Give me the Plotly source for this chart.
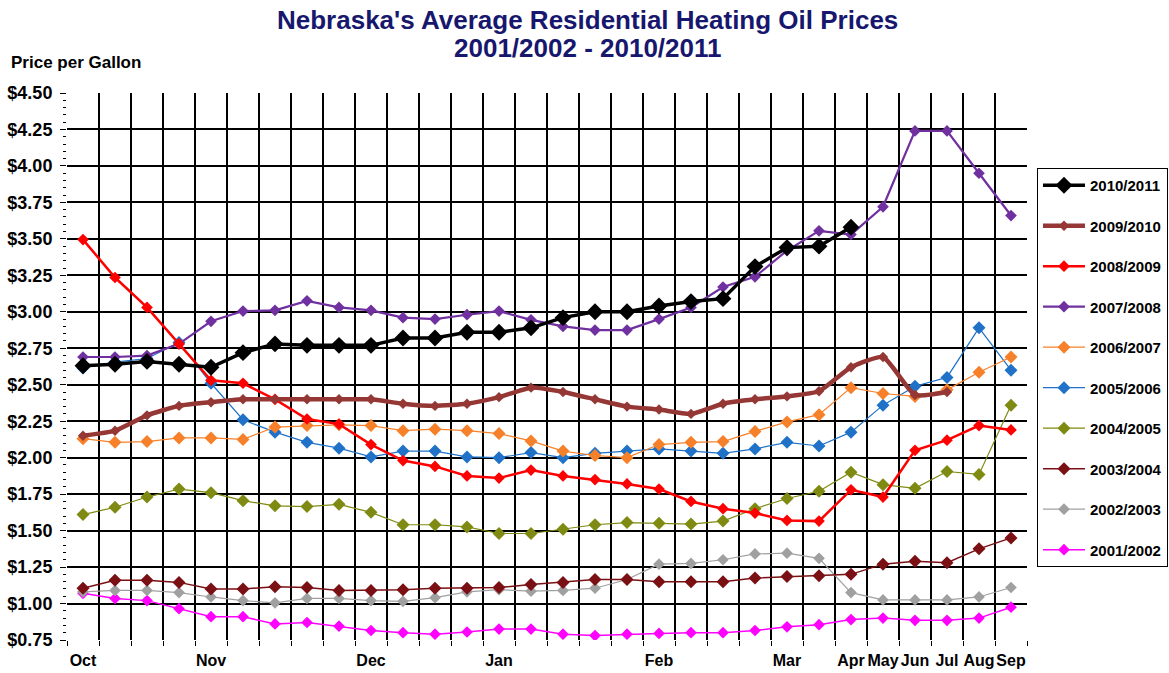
import plotly.graph_objects as go

# ---- data ----
x_labels = ["Oct", "", "", "", "Nov", "", "", "", "", "Dec", "", "", "", "Jan", "", "", "", "",
            "Feb", "", "", "", "Mar", "", "Apr", "May", "Jun", "Jul", "Aug", "Sep"]

seasons = ["2010/2011", "2009/2010", "2008/2009", "2007/2008", "2006/2007",
           "2005/2006", "2004/2005", "2003/2004", "2002/2003", "2001/2002"]

s2010_2011 = [2.63, 2.64, 2.66, 2.64, 2.62, 2.72, 2.78, 2.77, 2.77, 2.77, 2.82, 2.82, 2.86, 2.86, 2.89,
              2.96, 3.00, 3.00, 3.04, 3.07, 3.09, 3.31, 3.44, 3.45, 3.58]
s2009_2010 = [2.15, 2.185, 2.29, 2.355, 2.38, 2.40, 2.40, 2.40, 2.40, 2.40, 2.37, 2.355, 2.37, 2.415,
              2.48, 2.45, 2.40, 2.35, 2.33, 2.30, 2.37, 2.40, 2.42, 2.455, 2.62, 2.69, 2.43, 2.45]
s2008_2009 = [3.495, 3.235, 3.03, 2.78, 2.53, 2.51, 2.40, 2.265, 2.23, 2.09, 1.98, 1.94, 1.875, 1.86,
              1.915, 1.875, 1.85, 1.82, 1.785, 1.70, 1.65, 1.62, 1.57, 1.565, 1.78, 1.73, 2.05, 2.12,
              2.22, 2.19]
s2007_2008 = [2.69, 2.69, 2.70, 2.78, 2.935, 3.005, 3.01, 3.075, 3.03, 3.01, 2.96, 2.95, 2.98, 3.005,
              2.945, 2.90, 2.875, 2.875, 2.95, 3.03, 3.17, 3.24, 3.42, 3.555, 3.53, 3.72, 4.24, 4.24,
              3.95, 3.66]
s2006_2007 = [2.13, 2.105, 2.11, 2.135, 2.135, 2.125, 2.21, 2.22, 2.225, 2.22, 2.185, 2.195, 2.185,
              2.165, 2.115, 2.045, 2.015, 2.00, 2.09, 2.105, 2.11, 2.18, 2.245, 2.295, 2.48, 2.44,
              2.42, 2.465, 2.585, 2.69]
s2005_2006 = [2.615, 2.655, 2.68, 2.79, 2.51, 2.26, 2.175, 2.105, 2.065, 2.005, 2.045, 2.045, 2.005,
              2.00, 2.035, 2.00, 2.03, 2.045, 2.06, 2.045, 2.03, 2.06, 2.105, 2.08, 2.175, 2.36, 2.49,
              2.55, 2.89, 2.60]
s2004_2005 = [1.61, 1.66, 1.73, 1.785, 1.76, 1.705, 1.67, 1.665, 1.68, 1.625, 1.54, 1.54, 1.525, 1.48,
              1.48, 1.51, 1.54, 1.555, 1.55, 1.545, 1.565, 1.65, 1.72, 1.77, 1.90, 1.815, 1.79, 1.905,
              1.885, 2.36]
s2003_2004 = [1.105, 1.16, 1.16, 1.145, 1.10, 1.10, 1.115, 1.11, 1.09, 1.09, 1.095, 1.105, 1.105,
              1.11, 1.13, 1.145, 1.165, 1.165, 1.15, 1.15, 1.15, 1.175, 1.185, 1.19, 1.20, 1.27, 1.29,
              1.28, 1.375, 1.45]
s2002_2003 = [1.08, 1.09, 1.09, 1.075, 1.045, 1.02, 1.005, 1.035, 1.035, 1.02, 1.015, 1.04, 1.08,
              1.095, 1.085, 1.09, 1.105, 1.165, 1.27, 1.275, 1.30, 1.34, 1.345, 1.31, 1.075, 1.025,
              1.025, 1.025, 1.045, 1.11]
s2001_2002 = [1.07, 1.035, 1.02, 0.965, 0.91, 0.91, 0.86, 0.87, 0.845, 0.815, 0.80, 0.79, 0.805,
              0.825, 0.825, 0.79, 0.78, 0.79, 0.795, 0.80, 0.80, 0.815, 0.84, 0.855, 0.89, 0.90,
              0.885, 0.885, 0.90, 0.975]

series = [s2010_2011, s2009_2010, s2008_2009, s2007_2008, s2006_2007,
          s2005_2006, s2004_2005, s2003_2004, s2002_2003, s2001_2002]

title_line1 = "Nebraska's Average Residential Heating Oil Prices"
title_line2 = "2001/2002 - 2010/2011"
y_title = "Price per Gallon"

# ---- styles ----
colors = ["#000000", "#953735", "#FF0000", "#7030A0", "#F7802A",
          "#1F72C8", "#7F8A12", "#7A0F14", "#A0A0A0", "#FF00FF"]
line_widths = [3.5, 4.5, 2.5, 2.2, 1.2, 1.2, 1.2, 1.5, 1.2, 1.5]
marker_sizes = [13, 8, 9, 9, 10, 10, 10, 10, 9, 9]
shapes = ["linear", "spline", "linear", "linear", "linear",
          "linear", "linear", "linear", "linear", "linear"]

fig = go.Figure()
n = len(seasons)
for i in range(n):
    ys = series[i]
    fig.add_trace(go.Scatter(
        x=list(range(len(ys))), y=ys, name=seasons[i], mode="lines+markers",
        legendgroup=seasons[i], zorder=n - i,
        line=dict(color=colors[i], width=line_widths[i], shape=shapes[i], smoothing=0.5),
        marker=dict(symbol="diamond", size=marker_sizes[i], color=colors[i]),
    ))

tick_idx = [i for i, t in enumerate(x_labels) if t]
tick_txt = [x_labels[i] for i in tick_idx]

font_fam = "Liberation Sans, Arial, sans-serif"
title_font = dict(family=font_fam, size=26, color="#17176E", weight="bold")

fig.update_layout(
    width=1169, height=673,
    paper_bgcolor="white", plot_bgcolor="white",
    margin=dict(l=67, r=142, t=93, b=33, autoexpand=False),
    showlegend=True,
    legend=dict(
        x=1.0104, xanchor="left", y=0.863, yanchor="top",
        bordercolor="black", borderwidth=1, bgcolor="white",
        traceorder="grouped", tracegroupgap=18,
        itemwidth=42,
        font=dict(family=font_fam, size=15, color="black", weight="bold"),
    ),
    xaxis=dict(
        range=[-0.5, len(x_labels) - 0.5],
        tickmode="array", tickvals=tick_idx, ticktext=tick_txt, tickangle=0,
        ticks="", showgrid=False, zeroline=False, ticklabelstandoff=6,
        showline=True, mirror=True, linecolor="#555555", linewidth=1,
        tickfont=dict(family=font_fam, size=16, color="black", weight="bold"),
        minor=dict(tickmode="array", tickvals=[i - 0.5 for i in range(len(x_labels) + 1)],
                   ticks="outside", ticklen=5, tickcolor="black",
                   showgrid=True, gridcolor="black", gridwidth=1.5),
        fixedrange=True,
    ),
    yaxis=dict(
        range=[0.75, 4.5], tickmode="linear", tick0=0.75, dtick=0.25,
        tickformat="$.2f", ticks="outside", ticklen=6, tickcolor="black",
        showgrid=True, gridcolor="black", gridwidth=1.5, zeroline=False,
        ticklabelstandoff=4,
        showline=True, mirror=True, linecolor="#555555", linewidth=1,
        tickfont=dict(family=font_fam, size=18, color="black", weight="bold"),
        minor=dict(dtick=0.05, ticks="outside", ticklen=3, tickcolor="black", showgrid=False),
        fixedrange=True,
    ),
    annotations=[
        dict(text=title_line1, xref="paper", yref="paper", x=0.5417, y=1.1335,
             xanchor="center", yanchor="middle", showarrow=False, font=title_font),
        dict(text=title_line2, xref="paper", yref="paper", x=0.5417, y=1.0823,
             xanchor="center", yanchor="middle", showarrow=False, font=title_font),
        dict(text=y_title, xref="paper", yref="paper", x=-0.060, y=1.055,
             xanchor="left", yanchor="middle", showarrow=False,
             font=dict(family=font_fam, size=17, color="black", weight="bold")),
    ],
)

fig.write_html("out.html", config={"displayModeBar": False},
               post_script="document.body.style.margin='0';document.body.style.overflow='hidden';")
